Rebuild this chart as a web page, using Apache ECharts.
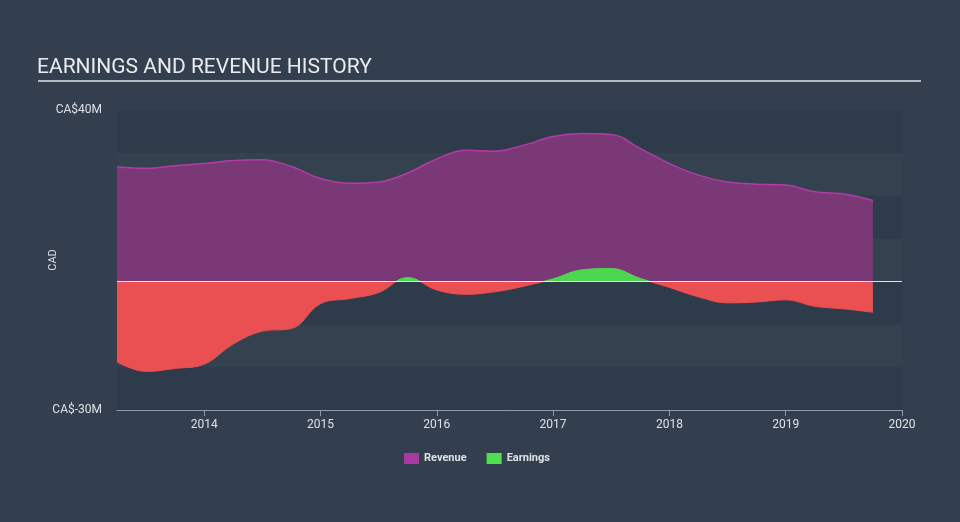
<!DOCTYPE html>
<html>
<head>
<meta charset="utf-8">
<script src="https://cdn.jsdelivr.net/npm/echarts@6/dist/echarts.min.js"></script>
<style>
html,body{margin:0;padding:0;background:#333f4e;}
#c{width:960px;height:522px;}
</style>
</head>
<body>
<div id="c"></div>
<script>
// Quarter-end dates as fractional years
var dates = [2013.25,2013.5,2013.75,2014.0,2014.25,2014.5,2014.75,2015.0,2015.25,2015.5,2015.75,2016.0,2016.25,2016.5,2016.75,2017.0,2017.25,2017.5,2017.75,2018.0,2018.25,2018.5,2018.75,2019.0,2019.25,2019.5,2019.75];
// Revenue, CA$ millions
var revenue = [26.7,26.4,27.0,27.5,28.2,28.4,26.8,24.0,22.9,23.2,25.3,28.6,30.6,30.4,31.8,33.8,34.5,34.3,31.0,27.5,24.8,23.2,22.7,22.5,20.9,20.4,18.9];
// Earnings, CA$ millions
var earnings = [-18.8,-21.0,-20.3,-19.3,-14.6,-11.6,-11.0,-5.2,-4.0,-2.6,0.9,-2.0,-3.0,-2.4,-1.1,0.6,2.7,3.0,0.7,-1.4,-3.6,-5.0,-4.8,-4.3,-5.8,-6.4,-7.2];
var yearTicks = [2014,2015,2016,2017,2018,2019,2020];

function pairs(xs, ys){ return xs.map(function(x,i){ return [x, ys[i]]; }); }

var chart = echarts.init(document.getElementById('c'));
chart.setOption({
  backgroundColor: '#333f4e',
  animation: false,
  title: {
    text: 'EARNINGS AND REVENUE HISTORY',
    left: 37, top: 57, padding: 0,
    textStyle: { color: '#e9ecef', fontSize: 21, fontWeight: 'normal', fontFamily: 'Roboto' }
  },
  graphic: [{
    type: 'line', shape: { x1: 38, y1: 81, x2: 921, y2: 81 },
    style: { stroke: '#b5bac1', lineWidth: 2 }, silent: true
  }],
  legend: {
    bottom: 53, left: 399,
    icon: 'rect', itemWidth: 15, itemHeight: 11, itemGap: 20,
    textStyle: { color: '#dde1e6', fontSize: 11, fontFamily: 'Roboto', fontWeight: 'bold' },
    data: [
      { name: 'Revenue', itemStyle: { color: '#a8399f' } },
      { name: 'Earnings', itemStyle: { color: '#4fe04f' } }
    ]
  },
  grid: { left: 117, right: 58, top: 110, bottom: 112 },
  xAxis: {
    type: 'value', min: 2013.25, max: 2020,
    axisLine: { show: true, onZero: false, lineStyle: { color: '#8d9db0', width: 1 } },
    axisTick: { show: true, length: 6, lineStyle: { color: '#8d9db0' }, customValues: yearTicks },
    axisLabel: { color: '#dde1e6', fontSize: 12, fontFamily: 'Roboto', margin: 9, customValues: yearTicks,
      formatter: function(v){ return String(Math.round(v)); } },
    splitLine: { show: false }
  },
  yAxis: {
    type: 'value', min: -30, max: 40, interval: 10,
    name: 'CAD', nameLocation: 'middle', nameGap: 58, nameRotate: 90, nameMoveOverlap: false,
    nameTextStyle: { color: '#dde1e6', fontSize: 11, fontFamily: 'Roboto' },
    axisLine: { show: false }, axisTick: { show: false },
    axisLabel: { color: '#dde1e6', fontSize: 12, fontFamily: 'Roboto', margin: 15,
      formatter: function(v){ return v === 40 ? 'CA$40M' : (v === -30 ? 'CA$-30M' : ''); } },
    splitLine: { show: false },
    splitArea: { show: true, areaStyle: { color: ['#2e3b4a', '#34414f'] } }
  },
  visualMap: {
    type: 'piecewise', show: false, seriesIndex: 1, dimension: 1,
    pieces: [ { gte: -100, lt: 0, color: '#ea4f51' }, { gte: 0, lte: 100, color: '#4fd650' } ]
  },
  series: [
    {
      name: 'Revenue', type: 'line', data: pairs(dates, revenue),
      smooth: 0.4, symbol: 'none',
      itemStyle: { color: '#a8399f' },
      lineStyle: { color: '#b43ba6', width: 1.5 },
      areaStyle: { color: '#7a3876', opacity: 1 },
      z: 2
    },
    {
      name: 'Earnings', type: 'line', data: pairs(dates, earnings),
      smooth: 0.4, symbol: 'none',
      itemStyle: { color: '#4fe04f' },
      lineStyle: { width: 1 },
      areaStyle: { opacity: 1 },
      z: 3
    },
    {
      name: 'zero', type: 'line', data: [], z: 4, silent: true,
      markLine: {
        silent: true, symbol: 'none', label: { show: false },
        lineStyle: { color: '#ffffff', type: 'solid', width: 1, opacity: 0.85 },
        data: [ { yAxis: 0 } ]
      }
    }
  ]
});
</script>
</body>
</html>
